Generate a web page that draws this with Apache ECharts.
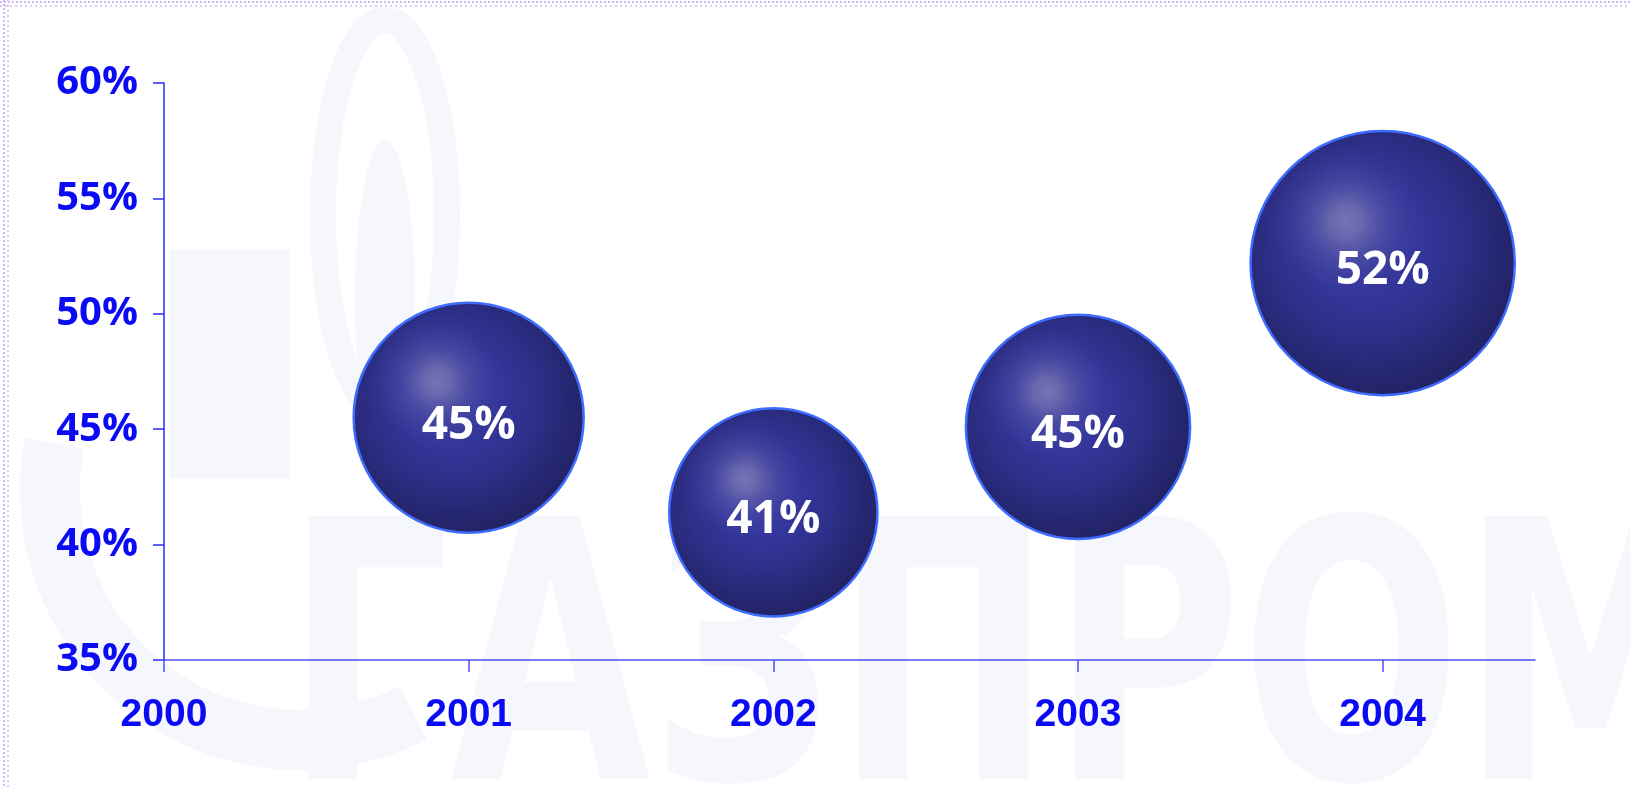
<!DOCTYPE html>
<html>
<head>
<meta charset="utf-8">
<script src="https://cdn.jsdelivr.net/npm/echarts@6/dist/echarts.min.js"></script>
<style>
html,body{margin:0;padding:0;background:#fff;}
#chart{width:1630px;height:788px;}
</style>
</head>
<body>
<div id="chart"></div>
<script>
// ---- data ----
const years = [2001, 2002, 2003, 2004];
const shares = [45.5, 41.4, 45.1, 52.2];          // % (bubble centre)
const shareLabels = ['45%', '41%', '45%', '52%'];  // printed labels
const bubbleWeights = [100, 82, 95, 132];          // relative bubble area
const xTickValues = [2000, 2001, 2002, 2003, 2004];

const points = years.map((y, i) => [y, shares[i], bubbleWeights[i], shareLabels[i]]);

const chart = echarts.init(document.getElementById('chart'));
const wm = '#f6f7fc';

const ballBase = {
  type: 'radial', x: 0.44, y: 0.42, r: 0.6,
  colorStops: [
    {offset: 0, color: '#3a3c9f'},
    {offset: 0.35, color: '#33359a'},
    {offset: 0.6, color: '#2d2f88'},
    {offset: 0.82, color: '#262772'},
    {offset: 1, color: '#222264'}
  ]
};
const ballShine = {
  type: 'radial', x: 0.36, y: 0.34, r: 0.3,
  colorStops: [
    {offset: 0, color: 'rgba(118,116,180,1)'},
    {offset: 0.2, color: 'rgba(110,108,176,0.9)'},
    {offset: 0.5, color: 'rgba(90,90,170,0.5)'},
    {offset: 1, color: 'rgba(60,62,160,0)'}
  ]
};

const labelStyle = {
  show: true, position: 'inside', offset: [0, 8],
  formatter: p => p.data[3],
  color: '#ffffff', fontFamily: '"Open Sans", sans-serif', fontWeight: 'bold', fontSize: 46
};

chart.setOption({
  backgroundColor: '#ffffff',
  animation: false,
  graphic: [
    // faint watermark
    {type: 'arc', z: -10, shape: {cx: 300, cy: 490, r: 250, startAngle: Math.PI * 0.35, endAngle: Math.PI * 1.06, clockwise: true},
     style: {stroke: wm, fill: null, lineWidth: 60}},
    {type: 'rect', z: -10, shape: {x: 170, y: 250, width: 120, height: 228}, style: {fill: wm}},
    {type: 'ellipse', z: -10, shape: {cx: 385, cy: 215, rx: 62, ry: 195}, style: {stroke: wm, fill: null, lineWidth: 26}},
    {type: 'ellipse', z: -10, shape: {cx: 385, cy: 300, rx: 30, ry: 160}, style: {fill: wm}},
    {type: 'text', z: -10, x: 285, y: 505, scaleX: 0.8,
     style: {text: 'ГАЗПРОМ', fill: wm, font: 'bold 360px "DejaVu Sans Condensed", "DejaVu Sans"', textVerticalAlign: 'top'}},
    // dotted frame
    {type: 'line', z: -5, shape: {x1: 0, y1: 2, x2: 1630, y2: 2}, style: {stroke: '#cdb9f1', lineWidth: 2, lineDash: [2, 2]}},
    {type: 'line', z: -5, shape: {x1: 0, y1: 6, x2: 1630, y2: 6}, style: {stroke: '#dccdf5', lineWidth: 2, lineDash: [2, 3]}},
    {type: 'line', z: -5, shape: {x1: 4, y1: 0, x2: 4, y2: 788}, style: {stroke: '#cdb9f1', lineWidth: 2, lineDash: [2, 2]}},
    {type: 'line', z: -5, shape: {x1: 8, y1: 0, x2: 8, y2: 788}, style: {stroke: '#dccdf5', lineWidth: 2, lineDash: [2, 3]}}
  ],
  grid: {left: 164, right: 95, top: 83, bottom: 128, containLabel: false},
  xAxis: {
    type: 'value', min: 2000, max: 2004.5, interval: 1,
    splitLine: {show: false},
    axisLine: {show: true, onZero: false, lineStyle: {color: '#4c4cf6', width: 1.5}},
    axisTick: {show: true, length: 12, customValues: xTickValues, lineStyle: {color: '#4c4cf6', width: 1.5}},
    axisLabel: {
      customValues: xTickValues, margin: 36, color: '#0a0af5',
      fontFamily: '"Liberation Sans", Arial, sans-serif', fontWeight: 'bold', fontSize: 39,
      formatter: v => String(v)
    }
  },
  yAxis: {
    type: 'value', min: 35, max: 60, interval: 5,
    splitLine: {show: false},
    axisLine: {show: true, onZero: false, lineStyle: {color: '#2a2af8', width: 1.5}},
    axisTick: {show: true, length: 11, lineStyle: {color: '#2a2af8', width: 1.5}},
    axisLabel: {
      margin: 26, color: '#0a0af5',
      fontFamily: '"Open Sans", sans-serif', fontWeight: 'bold', fontSize: 40,
      formatter: v => v + '%'
    }
  },
  series: [{
    type: 'scatter',
    data: points,
    symbol: 'circle',
    symbolSize: v => 230 * Math.sqrt(v[2] / 100),
    itemStyle: {color: ballBase, borderColor: '#3d6cff', borderWidth: 2.5, opacity: 1},
    label: {show: false},
    emphasis: {disabled: true},
    z: 2
  }, {
    type: 'scatter',
    data: points,
    symbol: 'circle',
    symbolSize: v => 230 * Math.sqrt(v[2] / 100) - 4,
    itemStyle: {color: ballShine, borderWidth: 0, opacity: 1},
    label: labelStyle,
    emphasis: {disabled: true},
    silent: true,
    z: 3
  }]
});
</script>
</body>
</html>
